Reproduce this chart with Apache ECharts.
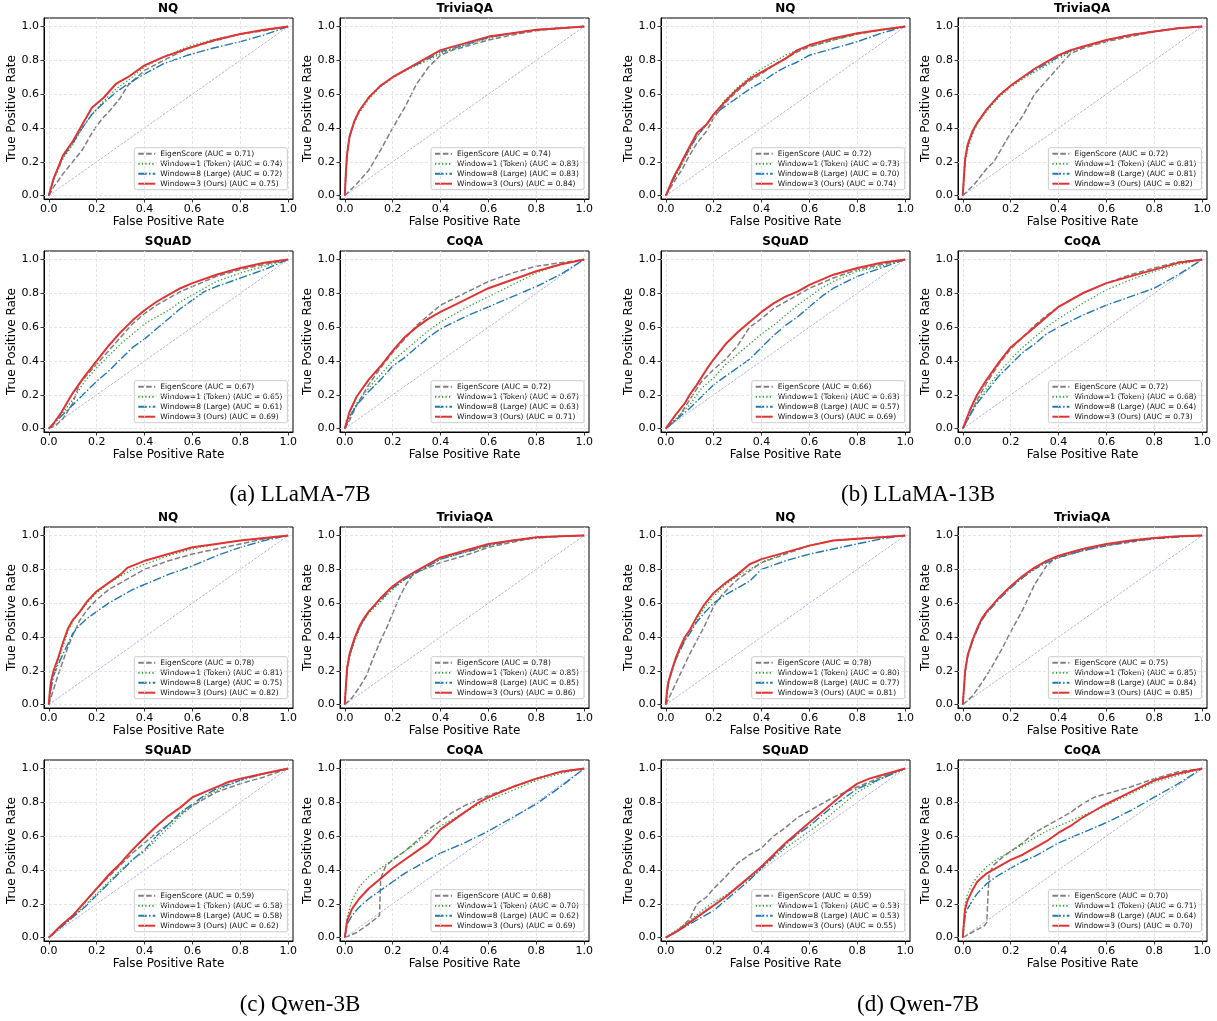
<!DOCTYPE html>
<html><head><meta charset="utf-8">
<script src="https://cdn.jsdelivr.net/npm/echarts@6/dist/echarts.min.js"></script>
<style>html,body{margin:0;padding:0;background:#fff}#c{width:1217px;height:1021px}</style>
</head><body><div id="c"></div><script>
// ---------- DATA ----------
const methods = ['EigenScore', 'Window=1 (Token)', 'Window=8 (Large)', 'Window=3 (Ours)'];
const datasets = ['NQ', 'TriviaQA', 'SQuAD', 'CoQA'];
const models = ['(a) LLaMA-7B', '(b) LLaMA-13B', '(c) Qwen-3B', '(d) Qwen-7B'];
const tickValues = [0, 0.2, 0.4, 0.6, 0.8, 1.0];
const diagonal = [[0, 0], [1, 1]];

// AUC values: [EigenScore, Window=1, Window=8, Window=3]
const auc_llama7b_nq = [0.71, 0.74, 0.72, 0.75];
const auc_llama7b_trivia = [0.74, 0.83, 0.83, 0.84];
const auc_llama7b_squad = [0.67, 0.65, 0.61, 0.69];
const auc_llama7b_coqa = [0.72, 0.67, 0.63, 0.71];
const auc_llama13b_nq = [0.72, 0.73, 0.70, 0.74];
const auc_llama13b_trivia = [0.72, 0.81, 0.81, 0.82];
const auc_llama13b_squad = [0.66, 0.63, 0.57, 0.69];
const auc_llama13b_coqa = [0.72, 0.68, 0.64, 0.73];
const auc_qwen3b_nq = [0.78, 0.81, 0.75, 0.82];
const auc_qwen3b_trivia = [0.78, 0.85, 0.85, 0.86];
const auc_qwen3b_squad = [0.59, 0.58, 0.58, 0.62];
const auc_qwen3b_coqa = [0.68, 0.70, 0.62, 0.69];
const auc_qwen7b_nq = [0.78, 0.80, 0.77, 0.81];
const auc_qwen7b_trivia = [0.75, 0.85, 0.84, 0.85];
const auc_qwen7b_squad = [0.59, 0.53, 0.53, 0.55];
const auc_qwen7b_coqa = [0.70, 0.71, 0.64, 0.70];

// ROC curves [FPR, TPR]
// LLaMA-7B
const roc_llama7b_nq_eigen = [[0,0],[0.02,0.05],[0.06,0.13],[0.1,0.2],[0.14,0.27],[0.18,0.37],[0.22,0.45],[0.26,0.51],[0.3,0.58],[0.33,0.65],[0.4,0.74],[0.48,0.8],[0.58,0.87],[0.68,0.91],[0.8,0.955],[0.9,0.975],[1,1]];
const roc_llama7b_nq_w1 = [[0,0],[0.02,0.09],[0.06,0.22],[0.1,0.3],[0.14,0.4],[0.18,0.48],[0.23,0.56],[0.28,0.63],[0.33,0.68],[0.4,0.76],[0.48,0.82],[0.58,0.88],[0.68,0.92],[0.8,0.955],[0.9,0.98],[1,1]];
const roc_llama7b_nq_w8 = [[0,0],[0.02,0.1],[0.06,0.23],[0.1,0.31],[0.14,0.4],[0.18,0.48],[0.23,0.55],[0.28,0.61],[0.33,0.66],[0.4,0.72],[0.48,0.78],[0.58,0.83],[0.68,0.87],[0.8,0.91],[0.9,0.95],[1,1]];
const roc_llama7b_nq_w3 = [[0,0],[0.02,0.1],[0.06,0.24],[0.1,0.32],[0.14,0.42],[0.18,0.52],[0.23,0.58],[0.28,0.66],[0.33,0.7],[0.4,0.77],[0.48,0.82],[0.58,0.87],[0.68,0.915],[0.8,0.955],[0.9,0.98],[1,1]];
const roc_llama7b_trivia_eigen = [[0,0],[0.05,0.07],[0.1,0.15],[0.15,0.27],[0.2,0.4],[0.25,0.52],[0.3,0.66],[0.35,0.76],[0.4,0.83],[0.45,0.86],[0.5,0.88],[0.6,0.92],[0.7,0.95],[0.8,0.975],[0.9,0.99],[1,1]];
const roc_llama7b_trivia_w1 = [[0,0],[0.005,0.14],[0.01,0.24],[0.02,0.34],[0.04,0.43],[0.06,0.49],[0.1,0.57],[0.15,0.645],[0.2,0.695],[0.25,0.735],[0.3,0.77],[0.35,0.8],[0.4,0.84],[0.5,0.89],[0.6,0.93],[0.7,0.96],[0.8,0.98],[0.9,0.99],[1,1]];
const roc_llama7b_trivia_w8 = [[0,0],[0.005,0.15],[0.01,0.25],[0.02,0.35],[0.04,0.44],[0.06,0.5],[0.1,0.58],[0.15,0.65],[0.2,0.7],[0.25,0.74],[0.3,0.775],[0.35,0.81],[0.4,0.85],[0.5,0.89],[0.6,0.935],[0.7,0.96],[0.8,0.98],[0.9,0.99],[1,1]];
const roc_llama7b_trivia_w3 = [[0,0],[0.005,0.15],[0.01,0.25],[0.02,0.35],[0.04,0.44],[0.06,0.5],[0.1,0.58],[0.15,0.65],[0.2,0.7],[0.25,0.74],[0.3,0.78],[0.35,0.82],[0.4,0.86],[0.5,0.9],[0.6,0.94],[0.7,0.96],[0.8,0.98],[0.9,0.99],[1,1]];
const roc_llama7b_squad_eigen = [[0,0],[0.03,0.02],[0.06,0.06],[0.1,0.15],[0.13,0.27],[0.2,0.38],[0.25,0.46],[0.3,0.54],[0.35,0.62],[0.4,0.68],[0.45,0.73],[0.5,0.77],[0.55,0.81],[0.6,0.84],[0.7,0.9],[0.8,0.94],[0.9,0.97],[1,1]];
const roc_llama7b_squad_w1 = [[0,0],[0.05,0.08],[0.1,0.17],[0.15,0.28],[0.2,0.36],[0.25,0.43],[0.3,0.5],[0.35,0.56],[0.4,0.62],[0.45,0.66],[0.5,0.7],[0.55,0.75],[0.6,0.79],[0.65,0.83],[0.7,0.87],[0.8,0.92],[0.9,0.96],[1,1]];
const roc_llama7b_squad_w8 = [[0,0],[0.05,0.07],[0.1,0.14],[0.15,0.21],[0.2,0.28],[0.25,0.34],[0.3,0.41],[0.35,0.48],[0.4,0.53],[0.45,0.59],[0.5,0.65],[0.55,0.71],[0.6,0.76],[0.65,0.81],[0.7,0.84],[0.8,0.89],[0.9,0.94],[1,1]];
const roc_llama7b_squad_w3 = [[0,0],[0.02,0.03],[0.05,0.09],[0.1,0.21],[0.15,0.31],[0.2,0.4],[0.25,0.49],[0.3,0.57],[0.35,0.64],[0.4,0.7],[0.45,0.75],[0.5,0.79],[0.55,0.83],[0.6,0.86],[0.7,0.91],[0.8,0.95],[0.9,0.98],[1,1]];
const roc_llama7b_coqa_eigen = [[0,0],[0.02,0.05],[0.05,0.14],[0.1,0.26],[0.15,0.36],[0.2,0.45],[0.25,0.53],[0.3,0.61],[0.35,0.67],[0.4,0.73],[0.5,0.8],[0.6,0.87],[0.7,0.92],[0.8,0.96],[0.9,0.98],[1,1]];
const roc_llama7b_coqa_w1 = [[0,0],[0.02,0.07],[0.05,0.15],[0.1,0.24],[0.15,0.32],[0.2,0.4],[0.25,0.46],[0.3,0.52],[0.35,0.58],[0.4,0.63],[0.5,0.71],[0.6,0.78],[0.7,0.85],[0.8,0.92],[0.9,0.97],[1,1]];
const roc_llama7b_coqa_w8 = [[0,0],[0.02,0.07],[0.05,0.14],[0.1,0.22],[0.15,0.29],[0.2,0.37],[0.25,0.42],[0.3,0.48],[0.35,0.54],[0.4,0.59],[0.5,0.66],[0.6,0.72],[0.7,0.78],[0.8,0.84],[0.9,0.91],[1,1]];
const roc_llama7b_coqa_w3 = [[0,0],[0.02,0.1],[0.05,0.19],[0.1,0.29],[0.15,0.37],[0.2,0.46],[0.25,0.54],[0.3,0.6],[0.35,0.65],[0.4,0.69],[0.5,0.76],[0.6,0.83],[0.7,0.88],[0.8,0.93],[0.9,0.97],[1,1]];
// LLaMA-13B
const roc_llama13b_nq_eigen = [[0,0],[0.03,0.07],[0.07,0.16],[0.1,0.24],[0.13,0.31],[0.17,0.38],[0.2,0.46],[0.25,0.55],[0.3,0.62],[0.35,0.68],[0.4,0.72],[0.45,0.77],[0.5,0.81],[0.55,0.85],[0.6,0.88],[0.7,0.92],[0.8,0.955],[0.9,0.98],[1,1]];
const roc_llama13b_nq_w1 = [[0,0],[0.03,0.09],[0.07,0.19],[0.1,0.27],[0.13,0.35],[0.17,0.42],[0.2,0.48],[0.25,0.57],[0.3,0.64],[0.35,0.7],[0.4,0.75],[0.45,0.79],[0.5,0.83],[0.55,0.86],[0.6,0.88],[0.7,0.92],[0.8,0.955],[0.9,0.98],[1,1]];
const roc_llama13b_nq_w8 = [[0,0],[0.03,0.09],[0.07,0.2],[0.1,0.28],[0.13,0.35],[0.17,0.42],[0.2,0.48],[0.25,0.53],[0.3,0.58],[0.35,0.63],[0.4,0.67],[0.45,0.72],[0.5,0.76],[0.55,0.79],[0.6,0.83],[0.7,0.87],[0.8,0.91],[0.9,0.96],[1,1]];
const roc_llama13b_nq_w3 = [[0,0],[0.03,0.1],[0.07,0.21],[0.1,0.29],[0.13,0.37],[0.17,0.42],[0.2,0.48],[0.25,0.56],[0.3,0.63],[0.35,0.69],[0.4,0.73],[0.45,0.77],[0.5,0.81],[0.55,0.86],[0.6,0.89],[0.7,0.93],[0.8,0.96],[0.9,0.98],[1,1]];
const roc_llama13b_trivia_eigen = [[0,0],[0.05,0.07],[0.1,0.16],[0.13,0.2],[0.15,0.25],[0.2,0.37],[0.25,0.47],[0.3,0.6],[0.35,0.68],[0.4,0.76],[0.45,0.84],[0.5,0.87],[0.6,0.91],[0.7,0.94],[0.8,0.97],[0.9,0.99],[1,1]];
const roc_llama13b_trivia_w1 = [[0,0],[0.005,0.1],[0.01,0.19],[0.02,0.27],[0.04,0.36],[0.06,0.42],[0.08,0.46],[0.1,0.5],[0.15,0.58],[0.2,0.64],[0.25,0.69],[0.3,0.73],[0.35,0.77],[0.4,0.81],[0.45,0.85],[0.5,0.88],[0.6,0.92],[0.7,0.95],[0.8,0.97],[0.9,0.99],[1,1]];
const roc_llama13b_trivia_w8 = [[0,0],[0.005,0.12],[0.01,0.21],[0.02,0.29],[0.04,0.37],[0.06,0.43],[0.08,0.47],[0.1,0.51],[0.15,0.59],[0.2,0.65],[0.25,0.7],[0.3,0.74],[0.35,0.78],[0.4,0.82],[0.45,0.855],[0.5,0.88],[0.6,0.92],[0.7,0.95],[0.8,0.97],[0.9,0.99],[1,1]];
const roc_llama13b_trivia_w3 = [[0,0],[0.005,0.12],[0.01,0.22],[0.02,0.3],[0.04,0.38],[0.06,0.43],[0.08,0.47],[0.1,0.51],[0.15,0.59],[0.2,0.65],[0.25,0.7],[0.3,0.75],[0.35,0.79],[0.4,0.83],[0.45,0.86],[0.5,0.88],[0.6,0.92],[0.7,0.95],[0.8,0.97],[0.9,0.99],[1,1]];
const roc_llama13b_squad_eigen = [[0,0],[0.05,0.06],[0.1,0.17],[0.15,0.28],[0.2,0.35],[0.25,0.41],[0.3,0.49],[0.35,0.6],[0.4,0.65],[0.45,0.71],[0.5,0.75],[0.55,0.79],[0.6,0.83],[0.7,0.89],[0.8,0.94],[0.9,0.97],[1,1]];
const roc_llama13b_squad_w1 = [[0,0],[0.05,0.07],[0.1,0.14],[0.15,0.24],[0.2,0.3],[0.25,0.38],[0.3,0.44],[0.35,0.5],[0.4,0.56],[0.45,0.61],[0.5,0.67],[0.55,0.73],[0.6,0.78],[0.65,0.83],[0.7,0.87],[0.8,0.93],[0.9,0.96],[1,1]];
const roc_llama13b_squad_w8 = [[0,0],[0.05,0.06],[0.1,0.12],[0.15,0.19],[0.2,0.26],[0.25,0.31],[0.3,0.36],[0.35,0.41],[0.4,0.48],[0.45,0.55],[0.5,0.61],[0.55,0.66],[0.6,0.72],[0.65,0.78],[0.7,0.83],[0.8,0.9],[0.9,0.95],[1,1]];
const roc_llama13b_squad_w3 = [[0,0],[0.04,0.08],[0.08,0.15],[0.1,0.2],[0.13,0.26],[0.17,0.35],[0.2,0.41],[0.25,0.5],[0.3,0.57],[0.35,0.63],[0.4,0.69],[0.45,0.74],[0.5,0.78],[0.55,0.81],[0.6,0.85],[0.7,0.91],[0.8,0.95],[0.9,0.98],[1,1]];
const roc_llama13b_coqa_eigen = [[0,0],[0.03,0.08],[0.06,0.17],[0.1,0.27],[0.15,0.38],[0.2,0.47],[0.25,0.54],[0.3,0.61],[0.35,0.67],[0.4,0.72],[0.5,0.8],[0.6,0.86],[0.7,0.91],[0.8,0.95],[0.9,0.985],[1,1]];
const roc_llama13b_coqa_w1 = [[0,0],[0.03,0.08],[0.06,0.16],[0.1,0.24],[0.15,0.33],[0.2,0.41],[0.25,0.48],[0.3,0.54],[0.35,0.6],[0.4,0.65],[0.5,0.74],[0.6,0.82],[0.7,0.88],[0.8,0.93],[0.9,0.97],[1,1]];
const roc_llama13b_coqa_w8 = [[0,0],[0.03,0.08],[0.06,0.15],[0.1,0.22],[0.15,0.31],[0.2,0.38],[0.25,0.45],[0.3,0.5],[0.35,0.56],[0.4,0.6],[0.5,0.67],[0.6,0.73],[0.7,0.78],[0.8,0.83],[0.9,0.91],[1,1]];
const roc_llama13b_coqa_w3 = [[0,0],[0.03,0.11],[0.06,0.2],[0.1,0.29],[0.15,0.39],[0.2,0.48],[0.25,0.54],[0.3,0.6],[0.35,0.66],[0.4,0.72],[0.5,0.8],[0.6,0.86],[0.7,0.9],[0.8,0.94],[0.9,0.98],[1,1]];
// Qwen-3B
const roc_qwen3b_nq_eigen = [[0,0],[0.02,0.09],[0.04,0.18],[0.06,0.26],[0.08,0.34],[0.1,0.41],[0.13,0.5],[0.16,0.56],[0.2,0.62],[0.25,0.68],[0.3,0.72],[0.35,0.76],[0.4,0.8],[0.5,0.85],[0.6,0.89],[0.7,0.92],[0.8,0.95],[0.9,0.98],[1,1]];
const roc_qwen3b_nq_w1 = [[0,0],[0.01,0.12],[0.02,0.18],[0.04,0.26],[0.06,0.35],[0.08,0.43],[0.1,0.49],[0.13,0.55],[0.16,0.6],[0.2,0.66],[0.25,0.72],[0.3,0.76],[0.35,0.8],[0.4,0.83],[0.5,0.88],[0.6,0.92],[0.7,0.95],[0.8,0.97],[0.9,0.985],[1,1]];
const roc_qwen3b_nq_w8 = [[0,0],[0.01,0.1],[0.02,0.17],[0.04,0.24],[0.06,0.3],[0.08,0.36],[0.1,0.42],[0.13,0.47],[0.16,0.51],[0.2,0.55],[0.25,0.6],[0.3,0.64],[0.35,0.68],[0.4,0.71],[0.5,0.77],[0.6,0.82],[0.7,0.88],[0.8,0.93],[0.9,0.97],[1,1]];
const roc_qwen3b_nq_w3 = [[0,0],[0.005,0.09],[0.01,0.14],[0.02,0.2],[0.04,0.28],[0.06,0.37],[0.08,0.45],[0.1,0.5],[0.13,0.55],[0.16,0.61],[0.2,0.67],[0.25,0.72],[0.3,0.77],[0.33,0.81],[0.4,0.85],[0.5,0.89],[0.6,0.93],[0.7,0.95],[0.8,0.97],[0.9,0.985],[1,1]];
const roc_qwen3b_trivia_eigen = [[0,0],[0.03,0.04],[0.06,0.1],[0.09,0.17],[0.12,0.28],[0.15,0.38],[0.18,0.47],[0.2,0.54],[0.23,0.64],[0.26,0.72],[0.29,0.78],[0.35,0.81],[0.4,0.84],[0.5,0.88],[0.6,0.93],[0.7,0.96],[0.8,0.99],[0.9,0.995],[1,1]];
const roc_qwen3b_trivia_w1 = [[0,0],[0.005,0.11],[0.01,0.2],[0.02,0.28],[0.04,0.37],[0.06,0.44],[0.08,0.5],[0.1,0.54],[0.15,0.61],[0.2,0.68],[0.25,0.74],[0.3,0.78],[0.35,0.82],[0.4,0.86],[0.5,0.9],[0.6,0.94],[0.7,0.97],[0.8,0.985],[0.9,0.995],[1,1]];
const roc_qwen3b_trivia_w8 = [[0,0],[0.005,0.12],[0.01,0.21],[0.02,0.29],[0.04,0.38],[0.06,0.45],[0.08,0.5],[0.1,0.55],[0.15,0.62],[0.2,0.69],[0.25,0.74],[0.3,0.78],[0.35,0.82],[0.4,0.86],[0.5,0.9],[0.6,0.94],[0.7,0.97],[0.8,0.985],[0.9,0.995],[1,1]];
const roc_qwen3b_trivia_w3 = [[0,0],[0.005,0.12],[0.01,0.22],[0.02,0.3],[0.04,0.39],[0.06,0.46],[0.08,0.51],[0.1,0.55],[0.15,0.63],[0.2,0.7],[0.25,0.75],[0.3,0.79],[0.35,0.83],[0.4,0.87],[0.5,0.91],[0.6,0.95],[0.7,0.97],[0.8,0.99],[0.9,0.995],[1,1]];
const roc_qwen3b_squad_eigen = [[0,0],[0.05,0.07],[0.1,0.13],[0.15,0.21],[0.2,0.29],[0.25,0.36],[0.3,0.43],[0.35,0.5],[0.4,0.56],[0.45,0.62],[0.5,0.67],[0.55,0.73],[0.6,0.78],[0.65,0.82],[0.7,0.86],[0.8,0.91],[0.9,0.95],[1,1]];
const roc_qwen3b_squad_w1 = [[0,0],[0.05,0.06],[0.1,0.12],[0.15,0.19],[0.2,0.26],[0.25,0.33],[0.3,0.4],[0.35,0.46],[0.4,0.51],[0.45,0.58],[0.5,0.65],[0.55,0.72],[0.6,0.78],[0.65,0.83],[0.7,0.87],[0.8,0.93],[0.9,0.97],[1,1]];
const roc_qwen3b_squad_w8 = [[0,0],[0.05,0.06],[0.1,0.12],[0.15,0.18],[0.2,0.25],[0.25,0.32],[0.3,0.39],[0.35,0.46],[0.4,0.52],[0.45,0.6],[0.5,0.67],[0.55,0.74],[0.6,0.79],[0.65,0.84],[0.7,0.88],[0.8,0.93],[0.9,0.97],[1,1]];
const roc_qwen3b_squad_w3 = [[0,0],[0.05,0.07],[0.1,0.13],[0.15,0.21],[0.2,0.29],[0.25,0.37],[0.3,0.44],[0.35,0.52],[0.4,0.59],[0.45,0.66],[0.5,0.72],[0.55,0.77],[0.6,0.83],[0.65,0.86],[0.7,0.89],[0.75,0.92],[0.8,0.94],[0.9,0.97],[1,1]];
const roc_qwen3b_coqa_eigen = [[0,0],[0.05,0.03],[0.1,0.08],[0.145,0.13],[0.15,0.35],[0.17,0.42],[0.2,0.46],[0.25,0.51],[0.3,0.57],[0.35,0.64],[0.4,0.69],[0.45,0.74],[0.5,0.78],[0.55,0.81],[0.6,0.84],[0.7,0.89],[0.8,0.94],[0.9,0.98],[1,1]];
const roc_qwen3b_coqa_w1 = [[0,0],[0.01,0.12],[0.03,0.22],[0.06,0.3],[0.1,0.36],[0.15,0.41],[0.2,0.46],[0.25,0.51],[0.3,0.56],[0.35,0.62],[0.4,0.66],[0.45,0.7],[0.5,0.74],[0.55,0.78],[0.6,0.81],[0.7,0.87],[0.8,0.93],[0.9,0.97],[1,1]];
const roc_qwen3b_coqa_w8 = [[0,0],[0.01,0.08],[0.03,0.13],[0.06,0.18],[0.1,0.23],[0.15,0.28],[0.2,0.33],[0.25,0.38],[0.3,0.42],[0.35,0.46],[0.4,0.5],[0.5,0.56],[0.6,0.63],[0.7,0.71],[0.8,0.79],[0.9,0.89],[1,1]];
const roc_qwen3b_coqa_w3 = [[0,0],[0.01,0.1],[0.03,0.17],[0.06,0.23],[0.1,0.29],[0.15,0.35],[0.2,0.41],[0.25,0.46],[0.3,0.51],[0.35,0.56],[0.4,0.64],[0.45,0.69],[0.5,0.74],[0.55,0.79],[0.6,0.83],[0.7,0.89],[0.8,0.94],[0.9,0.98],[1,1]];
// Qwen-7B
const roc_qwen7b_nq_eigen = [[0,0],[0.02,0.06],[0.05,0.15],[0.08,0.24],[0.1,0.3],[0.13,0.38],[0.16,0.46],[0.2,0.58],[0.23,0.64],[0.27,0.7],[0.3,0.74],[0.35,0.79],[0.4,0.84],[0.5,0.89],[0.6,0.94],[0.7,0.97],[0.8,0.98],[0.9,0.99],[1,1]];
const roc_qwen7b_nq_w1 = [[0,0],[0.01,0.12],[0.02,0.17],[0.04,0.26],[0.06,0.33],[0.08,0.38],[0.1,0.43],[0.13,0.5],[0.16,0.57],[0.2,0.64],[0.25,0.71],[0.3,0.76],[0.35,0.8],[0.4,0.84],[0.5,0.9],[0.6,0.94],[0.7,0.97],[0.8,0.98],[0.9,0.99],[1,1]];
const roc_qwen7b_nq_w8 = [[0,0],[0.01,0.12],[0.02,0.17],[0.04,0.26],[0.06,0.32],[0.08,0.38],[0.1,0.42],[0.13,0.49],[0.16,0.54],[0.2,0.6],[0.25,0.65],[0.3,0.69],[0.35,0.73],[0.4,0.8],[0.5,0.85],[0.6,0.89],[0.7,0.92],[0.8,0.95],[0.9,0.98],[1,1]];
const roc_qwen7b_nq_w3 = [[0,0],[0.005,0.08],[0.01,0.13],[0.02,0.18],[0.04,0.27],[0.06,0.34],[0.08,0.4],[0.1,0.44],[0.13,0.52],[0.16,0.59],[0.2,0.66],[0.25,0.72],[0.3,0.77],[0.35,0.83],[0.4,0.86],[0.5,0.9],[0.6,0.94],[0.7,0.97],[0.8,0.98],[0.9,0.99],[1,1]];
const roc_qwen7b_trivia_eigen = [[0,0],[0.04,0.05],[0.08,0.13],[0.12,0.22],[0.16,0.32],[0.2,0.43],[0.25,0.56],[0.3,0.71],[0.35,0.82],[0.38,0.86],[0.45,0.89],[0.5,0.91],[0.6,0.94],[0.7,0.96],[0.8,0.985],[0.9,0.995],[1,1]];
const roc_qwen7b_trivia_w1 = [[0,0],[0.005,0.1],[0.01,0.2],[0.02,0.29],[0.04,0.38],[0.06,0.45],[0.08,0.51],[0.1,0.55],[0.15,0.63],[0.2,0.7],[0.25,0.76],[0.3,0.81],[0.35,0.85],[0.4,0.88],[0.5,0.92],[0.6,0.95],[0.7,0.97],[0.8,0.985],[0.9,0.995],[1,1]];
const roc_qwen7b_trivia_w8 = [[0,0],[0.005,0.1],[0.01,0.19],[0.02,0.28],[0.04,0.37],[0.06,0.44],[0.08,0.5],[0.1,0.54],[0.15,0.62],[0.2,0.69],[0.25,0.75],[0.3,0.8],[0.35,0.84],[0.4,0.87],[0.5,0.91],[0.6,0.94],[0.7,0.965],[0.8,0.98],[0.9,0.99],[1,1]];
const roc_qwen7b_trivia_w3 = [[0,0],[0.005,0.1],[0.01,0.2],[0.02,0.29],[0.04,0.38],[0.06,0.45],[0.08,0.51],[0.1,0.55],[0.15,0.63],[0.2,0.7],[0.25,0.76],[0.3,0.81],[0.35,0.85],[0.4,0.88],[0.5,0.92],[0.6,0.95],[0.7,0.97],[0.8,0.985],[0.9,0.995],[1,1]];
const roc_qwen7b_squad_eigen = [[0,0],[0.05,0.04],[0.1,0.11],[0.13,0.2],[0.17,0.24],[0.2,0.29],[0.25,0.36],[0.3,0.44],[0.35,0.49],[0.4,0.53],[0.45,0.6],[0.5,0.65],[0.55,0.71],[0.6,0.75],[0.65,0.79],[0.7,0.83],[0.8,0.89],[0.9,0.95],[1,1]];
const roc_qwen7b_squad_w1 = [[0,0],[0.05,0.05],[0.1,0.1],[0.15,0.16],[0.2,0.21],[0.25,0.25],[0.3,0.3],[0.35,0.35],[0.4,0.41],[0.45,0.47],[0.5,0.53],[0.55,0.58],[0.6,0.63],[0.65,0.68],[0.7,0.74],[0.75,0.8],[0.8,0.86],[0.9,0.94],[1,1]];
const roc_qwen7b_squad_w8 = [[0,0],[0.05,0.04],[0.1,0.08],[0.15,0.12],[0.2,0.16],[0.25,0.22],[0.3,0.28],[0.35,0.34],[0.4,0.41],[0.45,0.48],[0.5,0.55],[0.55,0.61],[0.6,0.66],[0.65,0.72],[0.7,0.78],[0.75,0.83],[0.8,0.88],[0.9,0.94],[1,1]];
const roc_qwen7b_squad_w3 = [[0,0],[0.05,0.04],[0.1,0.09],[0.15,0.14],[0.2,0.19],[0.25,0.24],[0.3,0.3],[0.35,0.36],[0.4,0.42],[0.45,0.49],[0.5,0.56],[0.55,0.62],[0.6,0.68],[0.65,0.74],[0.7,0.8],[0.75,0.86],[0.8,0.91],[0.85,0.94],[0.9,0.96],[1,1]];
const roc_qwen7b_coqa_eigen = [[0,0],[0.05,0.04],[0.09,0.07],[0.1,0.09],[0.11,0.38],[0.13,0.43],[0.17,0.48],[0.2,0.51],[0.25,0.56],[0.3,0.62],[0.35,0.66],[0.4,0.7],[0.45,0.74],[0.5,0.79],[0.55,0.83],[0.6,0.85],[0.7,0.89],[0.8,0.94],[0.9,0.98],[1,1]];
const roc_qwen7b_coqa_w1 = [[0,0],[0.01,0.2],[0.02,0.26],[0.04,0.32],[0.06,0.36],[0.1,0.42],[0.15,0.47],[0.2,0.51],[0.25,0.55],[0.3,0.59],[0.35,0.63],[0.4,0.66],[0.5,0.72],[0.6,0.78],[0.7,0.85],[0.8,0.92],[0.9,0.96],[1,1]];
const roc_qwen7b_coqa_w8 = [[0,0],[0.01,0.13],[0.02,0.17],[0.04,0.22],[0.06,0.26],[0.1,0.32],[0.15,0.37],[0.2,0.41],[0.25,0.45],[0.3,0.48],[0.35,0.52],[0.4,0.56],[0.5,0.62],[0.6,0.68],[0.7,0.75],[0.8,0.83],[0.9,0.91],[1,1]];
const roc_qwen7b_coqa_w3 = [[0,0],[0.005,0.1],[0.01,0.17],[0.02,0.22],[0.04,0.28],[0.06,0.33],[0.1,0.38],[0.15,0.42],[0.2,0.46],[0.25,0.49],[0.3,0.53],[0.35,0.57],[0.4,0.62],[0.45,0.66],[0.5,0.71],[0.55,0.75],[0.6,0.79],[0.7,0.86],[0.8,0.93],[0.9,0.97],[1,1]];

// ---------- ASSEMBLY ----------
const panelCurves = [
  [[roc_llama7b_nq_eigen, roc_llama7b_nq_w1, roc_llama7b_nq_w8, roc_llama7b_nq_w3],
   [roc_llama7b_trivia_eigen, roc_llama7b_trivia_w1, roc_llama7b_trivia_w8, roc_llama7b_trivia_w3],
   [roc_llama7b_squad_eigen, roc_llama7b_squad_w1, roc_llama7b_squad_w8, roc_llama7b_squad_w3],
   [roc_llama7b_coqa_eigen, roc_llama7b_coqa_w1, roc_llama7b_coqa_w8, roc_llama7b_coqa_w3]],
  [[roc_llama13b_nq_eigen, roc_llama13b_nq_w1, roc_llama13b_nq_w8, roc_llama13b_nq_w3],
   [roc_llama13b_trivia_eigen, roc_llama13b_trivia_w1, roc_llama13b_trivia_w8, roc_llama13b_trivia_w3],
   [roc_llama13b_squad_eigen, roc_llama13b_squad_w1, roc_llama13b_squad_w8, roc_llama13b_squad_w3],
   [roc_llama13b_coqa_eigen, roc_llama13b_coqa_w1, roc_llama13b_coqa_w8, roc_llama13b_coqa_w3]],
  [[roc_qwen3b_nq_eigen, roc_qwen3b_nq_w1, roc_qwen3b_nq_w8, roc_qwen3b_nq_w3],
   [roc_qwen3b_trivia_eigen, roc_qwen3b_trivia_w1, roc_qwen3b_trivia_w8, roc_qwen3b_trivia_w3],
   [roc_qwen3b_squad_eigen, roc_qwen3b_squad_w1, roc_qwen3b_squad_w8, roc_qwen3b_squad_w3],
   [roc_qwen3b_coqa_eigen, roc_qwen3b_coqa_w1, roc_qwen3b_coqa_w8, roc_qwen3b_coqa_w3]],
  [[roc_qwen7b_nq_eigen, roc_qwen7b_nq_w1, roc_qwen7b_nq_w8, roc_qwen7b_nq_w3],
   [roc_qwen7b_trivia_eigen, roc_qwen7b_trivia_w1, roc_qwen7b_trivia_w8, roc_qwen7b_trivia_w3],
   [roc_qwen7b_squad_eigen, roc_qwen7b_squad_w1, roc_qwen7b_squad_w8, roc_qwen7b_squad_w3],
   [roc_qwen7b_coqa_eigen, roc_qwen7b_coqa_w1, roc_qwen7b_coqa_w8, roc_qwen7b_coqa_w3]]
];
const panelAuc = [
  [auc_llama7b_nq, auc_llama7b_trivia, auc_llama7b_squad, auc_llama7b_coqa],
  [auc_llama13b_nq, auc_llama13b_trivia, auc_llama13b_squad, auc_llama13b_coqa],
  [auc_qwen3b_nq, auc_qwen3b_trivia, auc_qwen3b_squad, auc_qwen3b_coqa],
  [auc_qwen7b_nq, auc_qwen7b_trivia, auc_qwen7b_squad, auc_qwen7b_coqa]
];

// ---------- STYLE / LAYOUT ----------
const FONT = 'DejaVu Sans';
const colX0 = [48.3, 345, 665.7, 962.4];   // pixel where FPR = 0
const rowY0 = [195.7, 428.7, 704.7, 937.7]; // pixel where TPR = 0
const SX = 239.5, SY = 169;
const XMIN = -0.02, XMAX = 1.02, YMIN = -0.02, YMAX = 1.05;
const methodStyle = [
  {color: '#7f7f7f', width: 1.5, type: [5.5, 2.4]},
  {color: '#2ca02c', width: 1.3, type: [1.3, 2.2]},
  {color: '#1f77b4', width: 1.4, type: [8.5, 2.2, 1.5, 2.2]},
  {color: '#e03434', width: 2.0, type: 'solid'}
];
const captionPos = [[300, 495], [918, 495], [300, 1005], [918, 1005]];

const grids = [], xAxes = [], yAxes = [], series = [], legends = [], graphics = [];
let gi = 0;
for (let m = 0; m < 4; m++) {
  for (let d = 0; d < 4; d++) {
    const col = (m % 2) * 2 + (d % 2);
    const row = Math.floor(m / 2) * 2 + Math.floor(d / 2);
    const x0 = colX0[col], y0 = rowY0[row];
    const left = Math.round(x0 + XMIN * SX), right = Math.round(x0 + XMAX * SX);
    const top = Math.round(y0 - YMAX * SY), bottom = Math.round(y0 - YMIN * SY);
    grids.push({left: left, top: top, width: right - left, height: bottom - top,
      show: true, borderColor: '#000', borderWidth: 1, backgroundColor: 'transparent', containLabel: false});
    const axCommon = {
      type: 'value', gridIndex: gi, nameLocation: 'middle',
      nameTextStyle: {fontSize: 12, fontFamily: FONT, color: '#000'},
      axisLine: {show: true, onZero: false, lineStyle: {color: '#000', width: 1}},
      axisTick: {show: true, customValues: tickValues, length: 3.5, lineStyle: {color: '#000', width: 0.8}},
      splitLine: {show: false}
    };
    xAxes.push(Object.assign({}, axCommon, {
      min: XMIN, max: XMAX, name: 'False Positive Rate', nameGap: 14,
      axisLabel: {customValues: tickValues, formatter: v => v.toFixed(1), fontSize: 11, fontFamily: FONT, color: '#000', margin: 5}
    }));
    yAxes.push(Object.assign({}, axCommon, {
      min: YMIN, max: YMAX, name: 'True Positive Rate', nameGap: 20,
      axisLabel: {customValues: tickValues, formatter: v => v.toFixed(1), fontSize: 11, fontFamily: FONT, color: '#000', margin: 5}
    }));
    // chance diagonal + dashed grid lines
    series.push({
      type: 'line', name: 'chance', xAxisIndex: gi, yAxisIndex: gi, data: diagonal,
      symbol: 'none', silent: true, z: 1, animation: false,
      lineStyle: {color: '#9c9ce8', width: 0.8, type: [2.5, 1.5]},
      markLine: {silent: true, symbol: 'none', animation: false, label: {show: false},
        lineStyle: {color: '#dedede', width: 0.8, type: [3, 2]},
        emphasis: {disabled: true},
        data: tickValues.map(v => ({xAxis: v})).concat(tickValues.map(v => ({yAxis: v})))}
    });
    const names = [];
    for (let k = 0; k < 4; k++) {
      const nm = methods[k] + ' (AUC = ' + panelAuc[m][d][k].toFixed(2) + ')';
      names.push(nm);
      series.push({
        type: 'line', name: nm, xAxisIndex: gi, yAxisIndex: gi,
        data: panelCurves[m][d][k], symbol: 'none', showSymbol: false,
        silent: true, animation: false, z: 2 + k,
        itemStyle: {color: methodStyle[k].color},
        lineStyle: Object.assign({}, methodStyle[k])
      });
    }
    legends.push({
      orient: 'vertical', left: x0 + 86, top: y0 - 48,
      itemWidth: 17, itemHeight: 9, itemGap: 2,
      padding: [2, 5, 2, 3], backgroundColor: 'rgba(255,255,255,0.85)',
      borderColor: '#cccccc', borderWidth: 1, borderRadius: 2,
      selectedMode: false, data: names,
      itemStyle: {opacity: 0, borderWidth: 0, color: 'transparent'},
      textStyle: {fontSize: 7.5, fontFamily: FONT, color: '#111'}
    });
    graphics.push({type: 'text', x: x0 + 0.5 * SX, y: top - 9, silent: true,
      style: {text: datasets[d], align: 'center', verticalAlign: 'middle',
        fontSize: 12, fontWeight: 'bold', fontFamily: FONT, fill: '#000'}});
    gi++;
  }
}
for (let m = 0; m < 4; m++) {
  graphics.push({type: 'text', x: captionPos[m][0], y: captionPos[m][1], silent: true,
    style: {text: models[m], align: 'center', verticalAlign: 'middle',
      fontSize: 23, fontFamily: 'Liberation Serif', fill: '#000'}});
}

const chart = echarts.init(document.getElementById('c'), null, {renderer: 'canvas'});
chart.setOption({
  animation: false,
  backgroundColor: '#ffffff',
  grid: grids, xAxis: xAxes, yAxis: yAxes, series: series, legend: legends,
  graphic: graphics
});
</script></body></html>
